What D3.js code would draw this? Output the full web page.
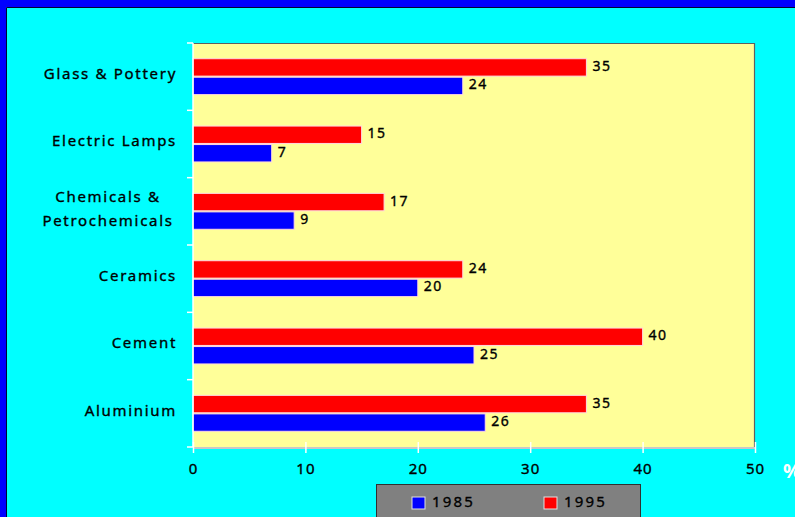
<!DOCTYPE html>
<html>
<head>
<meta charset="utf-8">
<script src="https://cdn.jsdelivr.net/npm/d3@7"></script>
<style>
  html, body { margin: 0; padding: 0; background: #00FFFF; }
  svg { display: block; }
  text { font-family: "Noto Sans", "DejaVu Sans", sans-serif; fill: #000; stroke: #000; stroke-width: 0.35px; }
</style>
</head>
<body>
<svg id="chart" width="795" height="517"></svg>
<script>
// Industry categories, top to bottom
const categories = [
  ["Glass & Pottery"],
  ["Electric Lamps"],
  ["Chemicals &", "Petrochemicals"],
  ["Ceramics"],
  ["Cement"],
  ["Aluminium"]
];
const seriesNames = ["1995", "1985"];
const values1985 = [24, 7, 9, 20, 25, 26];
const values1995 = [35, 15, 17, 24, 40, 35];
const xTicks = [0, 10, 20, 30, 40, 50];
const legendOrder = ["1985", "1995"];

const colors = { "1985": "#0000FF", "1995": "#FF0000" };
const valuesBySeries = { "1985": values1985, "1995": values1995 };

const W = 795, H = 517;
const svg = d3.select("#chart");

// Slide background and frame
svg.append("rect").attr("x", 0).attr("y", 0).attr("width", W).attr("height", H).attr("fill", "#00FFFF");
svg.append("rect").attr("x", 0).attr("y", 0).attr("width", W).attr("height", 7).attr("fill", "#0000FF");
svg.append("rect").attr("x", 0).attr("y", 0).attr("width", 6).attr("height", H).attr("fill", "#0000FF");
svg.append("line").attr("x1", 6.5).attr("x2", W).attr("y1", 7.5).attr("y2", 7.5).attr("stroke", "#000033").attr("stroke-width", 1);
svg.append("line").attr("x1", 6.5).attr("x2", 6.5).attr("y1", 7.5).attr("y2", H).attr("stroke", "#000033").attr("stroke-width", 1);

const plot = { left: 193, top: 43, right: 755, bottom: 447 };

const x = d3.scaleLinear().domain([0, 50]).range([plot.left, plot.right]);
const y0 = d3.scaleBand().domain(d3.range(categories.length)).range([plot.top, plot.bottom]).padding(0);
const y1 = d3.scaleBand().domain(seriesNames).range([0, y0.bandwidth()]).paddingInner(0.06).paddingOuter(0.85);

// Plot area
svg.append("rect")
  .attr("x", plot.left).attr("y", plot.top)
  .attr("width", plot.right - plot.left).attr("height", plot.bottom - plot.top)
  .attr("fill", "#FFFF99");
// dark edge on top and right
svg.append("path")
  .attr("d", `M${plot.left},${plot.top + 0.5}H${plot.right - 0.5}V${plot.bottom}`)
  .attr("fill", "none").attr("stroke", "#606060").attr("stroke-width", 1.2);
// light shadow under the plot
svg.append("line")
  .attr("x1", plot.left).attr("x2", plot.right).attr("y1", plot.bottom + 1).attr("y2", plot.bottom + 1)
  .attr("stroke", "#C8C8C8").attr("stroke-width", 2);

// Bars
const groups = svg.append("g").selectAll("g")
  .data(categories.map((c, i) => i))
  .join("g")
  .attr("transform", i => `translate(0,${y0(i)})`);

groups.selectAll("rect")
  .data(i => seriesNames.map(s => ({ s, v: valuesBySeries[s][i] })))
  .join("rect")
  .attr("x", x(0))
  .attr("y", d => y1(d.s))
  .attr("width", d => x(d.v) - x(0))
  .attr("height", y1.bandwidth())
  .attr("fill", d => colors[d.s])
  .attr("stroke", "#FFD8E0")
  .attr("stroke-width", 1);

groups.selectAll("text.val")
  .data(i => seriesNames.map(s => ({ s, v: valuesBySeries[s][i] })))
  .join("text")
  .attr("class", "val")
  .attr("x", d => x(d.v) + 6)
  .attr("y", d => y1(d.s) + y1.bandwidth() / 2 - 1.5)
  .attr("dy", "0.36em")
  .attr("font-size", 14)
  .attr("letter-spacing", 1.5)
  .text(d => d.v);

// Y axis (white) with outward ticks at band edges
const yAxisG = svg.append("g");
yAxisG.append("line")
  .attr("x1", plot.left).attr("x2", plot.left).attr("y1", plot.top).attr("y2", plot.bottom)
  .attr("stroke", "#FFFFFF").attr("stroke-width", 1.5);
yAxisG.selectAll("line.tick")
  .data(d3.range(categories.length + 1))
  .join("line")
  .attr("class", "tick")
  .attr("x1", plot.left - 6).attr("x2", plot.left)
  .attr("y1", i => plot.top + i * y0.step()).attr("y2", i => plot.top + i * y0.step())
  .attr("stroke", "#FFFFFF").attr("stroke-width", 1.5);

// Category labels
const catLabels = svg.append("g").selectAll("text")
  .data(categories)
  .join("text")
  .attr("font-size", 15)
  .attr("letter-spacing", 1.7)
  .attr("text-anchor", d => d.length > 1 ? "middle" : "end")
  .attr("x", d => d.length > 1 ? 108 : 177)
  .attr("y", (d, i) => y0(i) + y0.bandwidth() / 2 - (d.length > 1 ? 5 : 3));
catLabels.selectAll("tspan")
  .data(d => d.map((t, k) => ({ t, k, n: d.length })))
  .join("tspan")
  .attr("x", function () { return d3.select(this.parentNode).attr("x"); })
  .attr("dy", d => d.k === 0 ? `${0.36 - (d.n - 1) * 0.62}em` : "1.6em")
  .text(d => d.t);

// X axis
const xAxis = d3.axisBottom(x).tickValues(xTicks).tickSize(0).tickPadding(16);
const xAxisG = svg.append("g").attr("transform", `translate(0,${plot.bottom})`).call(xAxis);
xAxisG.select(".domain").remove();
xAxisG.selectAll(".tick line").remove();
xAxisG.selectAll(".tick").append("line")
  .attr("y1", -5).attr("y2", 6).attr("stroke", "#FFFFFF").attr("stroke-width", 1.5);
xAxisG.selectAll(".tick text")
  .attr("font-family", "Noto Sans, DejaVu Sans, sans-serif")
  .attr("font-size", 15).attr("letter-spacing", 1).attr("fill", "#000");

svg.append("text")
  .attr("x", 783).attr("y", 478)
  .attr("font-size", 20).attr("font-weight", "bold")
  .style("fill", "#FFFFFF").style("stroke", "none")
  .text("%");

// Legend
const legend = svg.append("g").attr("transform", "translate(376,484)");
legend.append("rect").attr("x", 0.5).attr("y", 0.5).attr("width", 264).attr("height", 40)
  .attr("fill", "#808080").attr("stroke", "#303030").attr("stroke-width", 1);
const legendItems = legend.selectAll("g.item")
  .data(legendOrder)
  .join("g").attr("class", "item")
  .attr("transform", (d, i) => `translate(${36 + i * 132},13)`);
legendItems.append("rect")
  .attr("width", 13).attr("height", 12)
  .attr("fill", d => colors[d]).attr("stroke", "#E0E0E0").attr("stroke-width", 1);
legendItems.append("text")
  .attr("x", 20).attr("y", 5).attr("dy", "0.36em")
  .attr("font-size", 15).attr("letter-spacing", 2.2)
  .text(d => d);
</script>
</body>
</html>
